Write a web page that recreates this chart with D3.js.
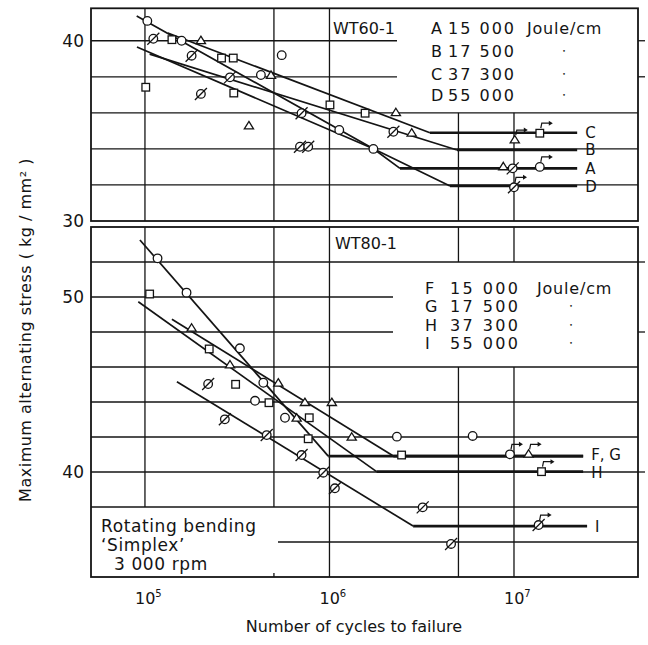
<!DOCTYPE html>
<html>
<head>
<meta charset="utf-8">
<script src="https://cdn.jsdelivr.net/npm/d3@7"></script>
<style>
  html, body { margin: 0; padding: 0; background: #fff; }
  svg { display: block; font-family: "DejaVu Sans", sans-serif; }
</style>
</head>
<body>
<svg id="chart" width="648" height="645"></svg>
<script>
// -----------------------------------------------------------------------------
// S-N curves, rotating bending fatigue of welded WT60-1 / WT80-1 plates.
// Two stacked panels sharing a log x axis (cycles to failure).
// Markers: circle, triangle, square, slashed circle; runouts get an arrow.
// -----------------------------------------------------------------------------

// ---- data: top panel (WT60-1), [cycles, stress kg/mm2] ----
const TOP_CIRCLES = [
  [1.03e5, 41.1], [1.58e5, 40.0], [4.25e5, 38.1], [5.51e5, 39.2],
  [1.13e6, 35.05], [1.73e6, 34.0],
];
const TOP_TRIANGLES = [
  [2.01e5, 40.0], [4.82e5, 38.07], [3.66e5, 35.27], [2.29e6, 36.0],
  [2.79e6, 34.87], [8.75e6, 33.0],
];
const TOP_SQUARES = [
  [1.40e5, 40.06], [2.60e5, 39.04], [3.01e5, 39.04], [1.01e5, 37.42],
  [3.03e5, 37.1], [1.006e6, 36.44], [1.56e6, 35.98],
];
const TOP_SLASHED = [
  [1.11e5, 40.11], [1.79e5, 39.17], [2.89e5, 37.97], [2.01e5, 37.05],
  [6.92e5, 34.12], [7.67e5, 34.12], [7.06e5, 35.98], [2.22e6, 34.95],
  [9.84e6, 32.92],
];
// runouts: [cycles, stress, marker]
const TOP_RUNOUTS = [
  [1.38e7, 34.87, "square"], [1.01e7, 34.49, "triangle"],
  [1.38e7, 33.0, "circle"], [1.0e7, 31.87, "slashed"],
];
const TOP_LINES = [
  { key: "C", pts: [[1.33e5, 40.43], [3.5e6, 34.9], [2.2e7, 34.9]] },
  { key: "B", pts: [[1.06e5, 39.26], [4.91e6, 33.94], [2.2e7, 33.94]] },
  { key: "A", pts: [[9.02e4, 41.37], [1.73e6, 34.01], [2.41e6, 32.92], [2.2e7, 32.92]] },
  { key: "D", pts: [[9.05e4, 39.65], [1.73e6, 34.01], [4.5e6, 31.94], [2.2e7, 31.94]] },
];
const TOP_LEGEND = [
  { key: "A", energy: "15 000" }, { key: "B", energy: "17 500" },
  { key: "C", energy: "37 300" }, { key: "D", energy: "55 000" },
];

// ---- data: bottom panel (WT80-1) ----
const BOT_CIRCLES = [
  [1.17e5, 52.21], [1.68e5, 50.25], [3.27e5, 47.07], [4.38e5, 45.1],
  [3.95e5, 44.07], [5.74e5, 43.1], [2.32e6, 42.02], [5.97e6, 42.06],
];
const BOT_TRIANGLES = [
  [1.79e5, 48.21], [2.89e5, 46.11], [5.28e5, 45.07], [7.36e5, 43.96],
  [1.03e6, 43.96], [6.64e5, 43.07], [1.32e6, 41.98],
];
const BOT_SQUARES = [
  [1.06e5, 50.17], [2.23e5, 47.03], [3.10e5, 45.01], [4.70e5, 43.96],
  [7.77e5, 43.1], [7.67e5, 41.9], [2.46e6, 40.97],
];
const BOT_SLASHED = [
  [2.20e5, 45.03], [2.71e5, 43.01], [4.57e5, 42.11], [7.06e5, 40.97],
  [9.25e5, 39.96], [1.07e6, 39.07], [3.20e6, 37.98], [4.56e6, 35.89],
];
const BOT_RUNOUTS = [
  [9.51e6, 41.01, "circle"], [1.20e7, 41.01, "triangle"],
  [1.41e7, 40.02, "square"], [1.36e7, 36.97, "slashed"],
];
const BOT_LINES = [
  { key: "F, G", pts: [[9.39e4, 53.26], [9.85e5, 40.91], [2.37e7, 40.91]] },
  { key: "", pts: [[1.40e5, 48.73], [2.22e6, 40.91], [2.37e7, 40.91]] },
  { key: "H", pts: [[9.2e4, 49.73], [1.8e6, 40.02], [2.37e7, 40.02]] },
  { key: "I", pts: [[1.49e5, 45.16], [2.84e6, 36.91], [2.49e7, 36.91]] },
];
const BOT_LEGEND = [
  { key: "F", energy: "15 000" }, { key: "G", energy: "17 500" },
  { key: "H", energy: "37 300" }, { key: "I", energy: "55 000" },
];

// ---- axes ----
const X_GRID = [1e5, 5e5, 1e6, 5e6, 1e7];
const X_LABELS = [{ v: 1e5, exp: "5" }, { v: 1e6, exp: "6" }, { v: 1e7, exp: "7" }];
const TOP_Y_GRID = [32, 34, 36, 38, 40];
const TOP_Y_LABELS = [40, 30];
const BOT_Y_GRID = [36, 38, 40, 42, 44, 46, 48, 50, 52];
const BOT_Y_LABELS = [50, 40];

const INK = "#141414";
const LEFT = 91, RIGHT = 638;

const svg = d3.select("#chart");
const x = d3.scaleLog().domain([5.1e4, 4.7e7]).range([LEFT, RIGHT]);
const yTop = d3.scaleLinear().domain([30, 41.8]).range([221, 8.3]);
const yBot = d3.scaleLinear().domain([34, 54]).range([577, 227]);

function hline(g, y, x1, x2, w = 1.3) {
  g.append("line").attr("x1", x1).attr("x2", x2).attr("y1", y).attr("y2", y)
    .attr("stroke", INK).attr("stroke-width", w);
}
function vline(g, xx, y1, y2, w = 1.3) {
  g.append("line").attr("x1", xx).attr("x2", xx).attr("y1", y1).attr("y2", y2)
    .attr("stroke", INK).attr("stroke-width", w);
}

// ---------------------------------------------------------------- grids
const grid = svg.append("g");

// top panel: legend block sits in the upper right, lines stop short of it
TOP_Y_GRID.forEach((v) => {
  const inLegend = v > 36;
  hline(grid, yTop(v), LEFT, inLegend ? 397 : RIGHT);
  if (inLegend) hline(grid, yTop(v), RIGHT, RIGHT + 7);
});
X_GRID.forEach((n) => {
  const y1 = n >= 5e6 ? yTop(36) : yTop.range()[1];
  vline(grid, x(n), y1, yTop.range()[0]);
});

// bottom panel
BOT_Y_GRID.forEach((v) => {
  if (v === 50 || v === 48) hline(grid, yBot(v), LEFT, 393);
  else if (v === 36) hline(grid, yBot(v), 278, RIGHT);
  else hline(grid, yBot(v), LEFT, RIGHT);
  if (v === 52 || v === 48 || v === 40) hline(grid, yBot(v), RIGHT, RIGHT + 7);
});
X_GRID.forEach((n) => {
  const top = yBot.range()[1], bot = yBot.range()[0];
  if (n < 1e6) {
    vline(grid, x(n), top, yBot(38));
    if (n === 5e5) vline(grid, x(n), bot - 4, bot);
  } else if (n === 1e6) {
    vline(grid, x(n), top, bot);
  } else {
    vline(grid, x(n), top, yBot(52));
    vline(grid, x(n), yBot(46), bot);
  }
});

// panel frames
[[yTop.range()[1], yTop.range()[0]], [yBot.range()[1], yBot.range()[0]]].forEach(([t, b]) => {
  svg.append("rect").attr("x", LEFT).attr("y", t).attr("width", RIGHT - LEFT)
    .attr("height", b - t).attr("fill", "none").attr("stroke", INK).attr("stroke-width", 1.8);
});

// ---------------------------------------------------------------- fit lines
function drawLines(lines, y) {
  const g = svg.append("g");
  const line = d3.line().x((d) => x(d[0])).y((d) => y(d[1]));
  lines.forEach((l) => {
    g.append("path").attr("d", line(l.pts.slice(0, -1)))
      .attr("fill", "none").attr("stroke", INK).attr("stroke-width", 1.7);
    g.append("path").attr("d", line(l.pts.slice(-2)))
      .attr("fill", "none").attr("stroke", INK).attr("stroke-width", 2.6);
  });
  return g;
}
drawLines(TOP_LINES, yTop);
drawLines(BOT_LINES, yBot);

// ---------------------------------------------------------------- markers
const R = 4.3;
function marker(g, kind, cx, cy) {
  const s = { fill: "#fff", stroke: INK, "stroke-width": 1.3 };
  let el;
  if (kind === "circle" || kind === "slashed") {
    el = g.append("circle").attr("cx", cx).attr("cy", cy).attr("r", R);
  } else if (kind === "square") {
    el = g.append("rect").attr("x", cx - 3.8).attr("y", cy - 3.8).attr("width", 7.6).attr("height", 7.6);
  } else {
    const h = 7.4;
    el = g.append("path").attr("d", `M${cx},${cy - h * 0.62}L${cx + 4.6},${cy + h * 0.38}L${cx - 4.6},${cy + h * 0.38}Z`);
  }
  Object.entries(s).forEach(([k, v]) => el.attr(k, v));
  if (kind === "slashed") {
    g.append("line").attr("x1", cx - 6).attr("y1", cy + 6).attr("x2", cx + 6).attr("y2", cy - 6)
      .attr("stroke", INK).attr("stroke-width", 1.3);
  }
}
function runoutArrow(g, cx, cy) {
  const top = cy - 5;
  g.append("path").attr("d", `M${cx + 1},${top}L${cx + 2},${top - 5}L${cx + 10},${top - 5}`)
    .attr("fill", "none").attr("stroke", INK).attr("stroke-width", 1.2);
  g.append("path").attr("d", `M${cx + 9},${top - 7.5}L${cx + 13},${top - 5}L${cx + 9},${top - 2.5}Z`)
    .attr("fill", INK);
}
function drawPoints(sets, runouts, y) {
  const g = svg.append("g");
  sets.forEach(([kind, data]) => data.forEach((d) => marker(g, kind, x(d[0]), y(d[1]))));
  runouts.forEach((d) => {
    marker(g, d[2], x(d[0]), y(d[1]));
    runoutArrow(g, x(d[0]), y(d[1]));
  });
}
drawPoints([["circle", TOP_CIRCLES], ["triangle", TOP_TRIANGLES], ["square", TOP_SQUARES],
  ["slashed", TOP_SLASHED]], TOP_RUNOUTS, yTop);
drawPoints([["circle", BOT_CIRCLES], ["triangle", BOT_TRIANGLES], ["square", BOT_SQUARES],
  ["slashed", BOT_SLASHED]], BOT_RUNOUTS, yBot);

// ---------------------------------------------------------------- text
const txt = svg.append("g").attr("fill", INK);
function label(str, xx, yy, size, anchor = "start") {
  return txt.append("text").attr("x", xx).attr("y", yy).attr("font-size", size)
    .attr("text-anchor", anchor).text(str);
}

// curve labels at the right end of each flat (F,G nudged up, H down so they clear)
const LABEL_NUDGE = { "F, G": -1.5, H: 1.3 };
[[TOP_LINES, yTop], [BOT_LINES, yBot]].forEach(([lines, y]) => {
  lines.filter((l) => l.key).forEach((l) => {
    const last = l.pts[l.pts.length - 1];
    label(l.key, x(last[0]) + 8, y(last[1]) + 5.5 + (LABEL_NUDGE[l.key] || 0), 15);
  });
});

// panel titles and legends
label("WT60-1", 333, 34, 16);
TOP_LEGEND.forEach((d, i) => {
  const yy = [34, 57, 80, 101][i];
  label(d.key, 431, yy, 16);
  label(d.energy, 448, yy, 16).attr("letter-spacing", 2);
  if (i === 0) label("Joule/cm", 527, yy, 16).attr("letter-spacing", 0.8);
  else label("•", 564, yy - 4, 6, "middle");
});
label("WT80-1", 335, 249, 16);
BOT_LEGEND.forEach((d, i) => {
  const yy = 294 + i * 18.3;
  label(d.key, 425, yy, 16);
  label(d.energy, 450, yy, 16).attr("letter-spacing", 2.4);
  if (i === 0) label("Joule/cm", 537, yy, 16).attr("letter-spacing", 0.8);
  else label("•", 571, yy - 4, 6, "middle");
});

// test conditions box
label("Rotating bending", 101, 532, 17).attr("letter-spacing", 0.6);
label("\u2018Simplex\u2019", 101, 551, 17).attr("letter-spacing", 0.6);
label("3 000 rpm", 114, 570, 17).attr("letter-spacing", 0.6);

// y tick labels
TOP_Y_LABELS.forEach((v) => label(v, 84, yTop(v) + 6, 17, "end"));
BOT_Y_LABELS.forEach((v) => label(v, 84, yBot(v) + 6, 17, "end"));

// x tick labels (10 with superscript exponent)
X_LABELS.forEach((d) => {
  const t = txt.append("text").attr("x", x(d.v) - 10).attr("y", 604).attr("font-size", 16);
  t.append("tspan").text("10");
  t.append("tspan").attr("dy", -7).attr("font-size", 10).text(d.exp);
});

// axis titles
label("Number of cycles to failure", 354, 632, 16, "middle");
txt.append("text").attr("transform", "translate(31,330) rotate(-90)")
  .attr("text-anchor", "middle").attr("font-size", 16).attr("letter-spacing", 0.5)
  .text("Maximum alternating stress  ( kg / mm\u00B2 )");
</script>
</body>
</html>
